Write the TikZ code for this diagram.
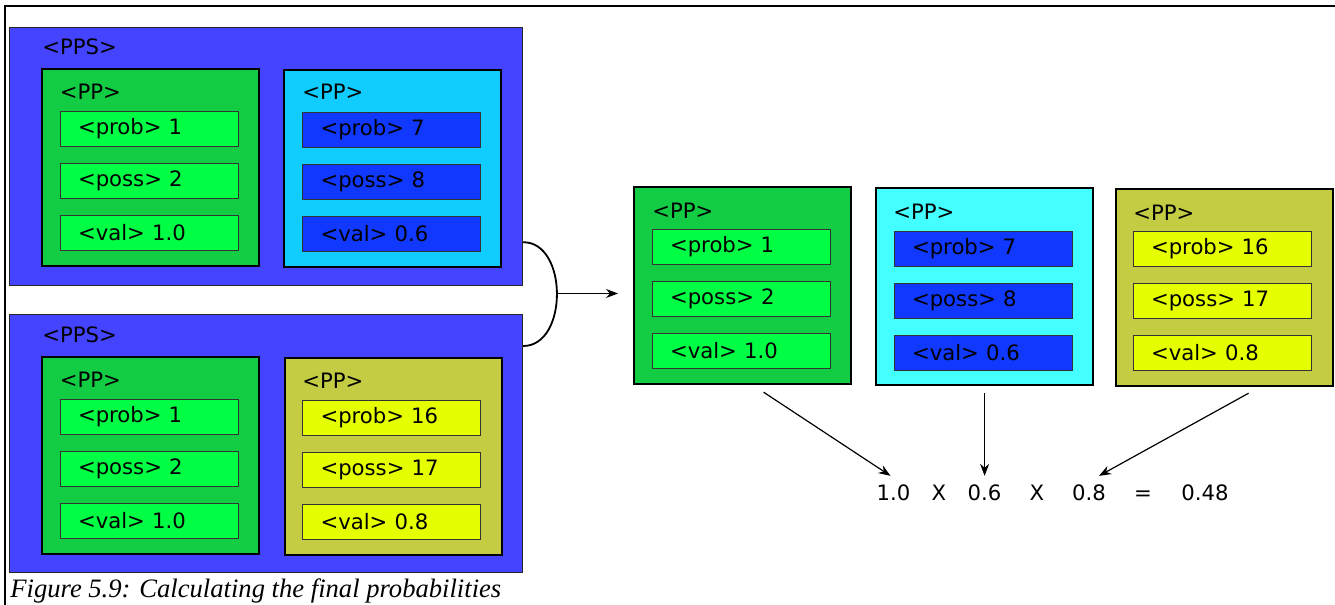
\documentclass[tikz,border=0pt]{standalone}
\usepackage{fontspec}
\setmainfont{DejaVu Sans}
\newfontfamily\captionfont{Liberation Serif}
\usetikzlibrary{arrows.meta}

\definecolor{ppsblue}{RGB}{68,68,255}
\definecolor{ppgreen}{RGB}{18,204,68}
\definecolor{fgreen}{RGB}{0,255,68}
\definecolor{ppcyan}{RGB}{16,204,255}
\definecolor{ppaqua}{RGB}{68,255,255}
\definecolor{fblue}{RGB}{16,56,255}
\definecolor{ppolive}{RGB}{196,204,68}
\definecolor{fyellow}{RGB}{230,255,0}

\begin{document}
\begin{tikzpicture}[x=0.5pt, y=-0.5pt, node distance=26pt, font=\fontsize{10.6}{12}\selectfont]
\tikzstyle{pps} = [rectangle, draw=black!85, line width=0.6pt, fill=ppsblue, minimum width=256.5pt, minimum height=129pt, anchor=north west]
\tikzstyle{pp} = [rectangle, draw, line width=1.1pt, minimum width=108.5pt, minimum height=98.5pt, anchor=north west]
\tikzstyle{field} = [rectangle, draw=black!80, line width=0.5pt, minimum width=89pt, minimum height=17.5pt, text width=71pt, inner xsep=9pt, align=left]
\tikzstyle{tag} = [anchor=west, inner sep=0pt]
\tikzstyle{term} = [anchor=base, inner sep=4pt]
\tikzstyle{arrow} = [line width=0.6pt, ->, >={Stealth[length=6pt,width=4.5pt]}]

\useasboundingbox (0,0) rectangle (1335,605);
\draw[line width=0.7pt] (5,605) -- (5,6) -- (1335,6);

% first set
\node[pps] (ppsA) at (9,27) {};
\node[tag] (ppsAtag) at (42,46.5) {<PPS>};
\node[pp, fill=ppgreen] (ppA) at (41,68) {};
\node[tag] (ppAtag) at (59.5,92) {<PP>};
\node[field, fill=fgreen] (ppAprob) at (149,128.5) {<prob> 1};
\node[field, fill=fgreen, below of=ppAprob] (ppAposs) {<poss> 2};
\node[field, fill=fgreen, below of=ppAposs] (ppAval) {<val> 1.0};
\node[pp, fill=ppcyan] (ppB) at (283,69) {};
\node[tag] (ppBtag) at (302,92) {<PP>};
\node[field, fill=fblue] (ppBprob) at (391.5,129.5) {<prob> 7};
\node[field, fill=fblue, below of=ppBprob] (ppBposs) {<poss> 8};
\node[field, fill=fblue, below of=ppBposs] (ppBval) {<val> 0.6};

% second set
\node[pps] (ppsB) at (9,314) {};
\node[tag] (ppsBtag) at (42,335) {<PPS>};
\node[pp, fill=ppgreen] (ppC) at (41,356) {};
\node[tag] (ppCtag) at (59.5,380) {<PP>};
\node[field, fill=fgreen] (ppCprob) at (149,416.5) {<prob> 1};
\node[field, fill=fgreen, below of=ppCprob] (ppCposs) {<poss> 2};
\node[field, fill=fgreen, below of=ppCposs] (ppCval) {<val> 1.0};
\node[pp, fill=ppolive] (ppD) at (284,357) {};
\node[tag] (ppDtag) at (302,381) {<PP>};
\node[field, fill=fyellow] (ppDprob) at (391.5,417.5) {<prob> 16};
\node[field, fill=fyellow, below of=ppDprob] (ppDposs) {<poss> 17};
\node[field, fill=fyellow, below of=ppDposs] (ppDval) {<val> 0.8};

% merged result
\node[pp, fill=ppgreen] (ppE) at (633,186) {};
\node[tag] (ppEtag) at (652,211) {<PP>};
\node[field, fill=fgreen] (ppEprob) at (741,247) {<prob> 1};
\node[field, fill=fgreen, below of=ppEprob] (ppEposs) {<poss> 2};
\node[field, fill=fgreen, below of=ppEposs] (ppEval) {<val> 1.0};
\node[pp, fill=ppaqua] (ppF) at (875,187) {};
\node[tag] (ppFtag) at (893,212) {<PP>};
\node[field, fill=fblue] (ppFprob) at (983,248.5) {<prob> 7};
\node[field, fill=fblue, below of=ppFprob] (ppFposs) {<poss> 8};
\node[field, fill=fblue, below of=ppFposs] (ppFval) {<val> 0.6};
\node[pp, fill=ppolive] (ppG) at (1115,188) {};
\node[tag] (ppGtag) at (1133,213) {<PP>};
\node[field, fill=fyellow] (ppGprob) at (1222,249) {<prob> 16};
\node[field, fill=fyellow, below of=ppGprob] (ppGposs) {<poss> 17};
\node[field, fill=fyellow, below of=ppGposs] (ppGval) {<val> 0.8};

% product of the values
\node[term] (vA) at (893.5,500) {1.0};
\node[term] (opA) at (939,500) {X};
\node[term] (vB) at (984.5,500) {0.6};
\node[term] (opB) at (1037,500) {X};
\node[term] (vC) at (1089,500) {0.8};
\node[term] (eq) at (1143,500) {=};
\node[term] (res) at (1205,500) {0.48};

% join of the two sets
\coordinate (joinA) at ([yshift=22pt]ppsA.south east);
\coordinate (joinB) at ([yshift=-16pt]ppsB.north east);
\coordinate (merge) at (556,293.5);
\draw[line width=0.9pt] (joinA) .. controls +(45,0) and +(45,0) .. (joinB);
\draw[arrow, shorten >=7.5pt] (merge) -- (merge -| ppE.west);

\coordinate (outE) at ([xshift=10.5pt,yshift=-3.5pt]ppE.south);
\coordinate (outF) at ([yshift=-3.5pt]ppF.south);
\coordinate (outG) at ([xshift=12pt,yshift=-3pt]ppG.south);
\draw[arrow] (outE) -- ([xshift=-1.5pt]vA.north);
\draw[arrow] (outF) -- (outF |- vB.north);
\draw[arrow] (outG) -- ([xshift=5pt]vC.north);

\node[anchor=base west, inner sep=0pt, font=\captionfont\itshape\fontsize{13.3}{15}\selectfont] (caption) at (10,597) {Figure 5.9: Calculating the final probabilities};

\end{tikzpicture}
\end{document}
